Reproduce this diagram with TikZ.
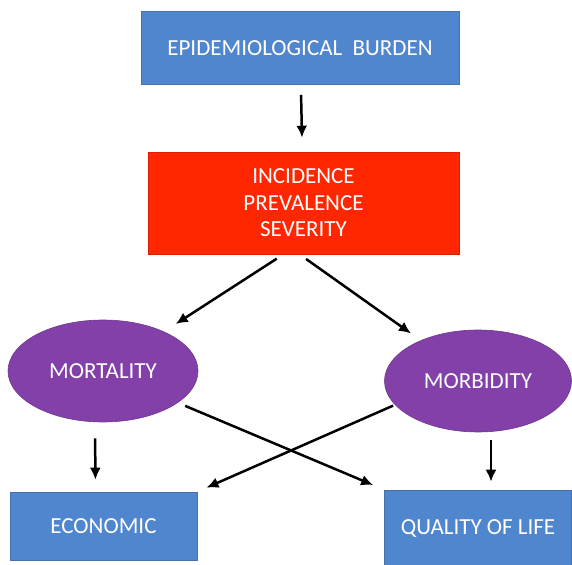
\documentclass[tikz,border=0pt]{standalone}
\usepackage{fontspec}
\setmainfont{Carlito}
\usetikzlibrary{shapes.geometric,arrows.meta}

\definecolor{boxblue}{RGB}{80,134,206}
\definecolor{boxred}{RGB}{255,38,0}
\definecolor{ovalpurple}{RGB}{130,64,168}

\begin{document}
\begin{tikzpicture}[
x=0.5pt, y=-0.5pt,
box/.style={
  rectangle,
  fill=boxblue,
  draw=boxblue!85!black,
  line width=0.3pt,
  text=white,
  font=\fontsize{11.5}{13.25}\selectfont,
  align=center,
  inner sep=0pt
  },
oval/.style={
  ellipse,
  fill=ovalpurple,
  draw=ovalpurple!85!black,
  line width=0.3pt,
  text=white,
  font=\fontsize{11.5}{13.25}\selectfont,
  inner sep=0pt
  },
link/.style={
  ->,
  line width=1.25pt
  },
>={Latex[length=6pt,width=5.5pt]}
]
\useasboundingbox (0,0) rectangle (572,565);

\node[box, minimum width=159pt, minimum height=36.5pt] (burden) at (300,48) {EPIDEMIOLOGICAL\ \ BURDEN};
\node[box, fill=boxred, draw=boxred!85!black, minimum width=155.5pt, minimum height=51pt] (severity) at (303.5,203) {INCIDENCE\\PREVALENCE\\SEVERITY};
\node[oval, minimum width=95pt, minimum height=51pt] (mortality) at (103,371) {MORTALITY};
\node[oval, minimum width=93.5pt, minimum height=51pt] (morbidity) at (478,381) {MORBIDITY};
\node[box, minimum width=93.5pt, minimum height=34pt] (economic) at (103.5,526) {ECONOMIC};
\node[box, minimum width=93.5pt, minimum height=39pt] (quality) at (478,529) {QUALITY OF LIFE};

\draw[link, shorten <=5pt, shorten >=7pt] (burden) -- (severity);
\draw[link, shorten <=4pt, shorten >=7pt] ([xshift=-10pt]severity.south) -- (mortality);
\draw[link, shorten <=4pt, shorten >=6pt] ([xshift=-2pt]severity.south) -- (morbidity);
\draw[link, shorten <=8pt, shorten >=6pt] ([xshift=-4pt]mortality.south) -- ([xshift=-4pt]economic.north);
\draw[link, shorten <=4pt, shorten >=4pt] ([xshift=6.5pt]morbidity.south) -- ([xshift=6.5pt]quality.north);
\draw[link, shorten <=4pt, shorten >=6pt] (mortality.-23) -- (quality.north west);
\draw[link, shorten <=1pt, shorten >=5pt] (morbidity.196) -- (economic.north east);
\end{tikzpicture}
\end{document}
